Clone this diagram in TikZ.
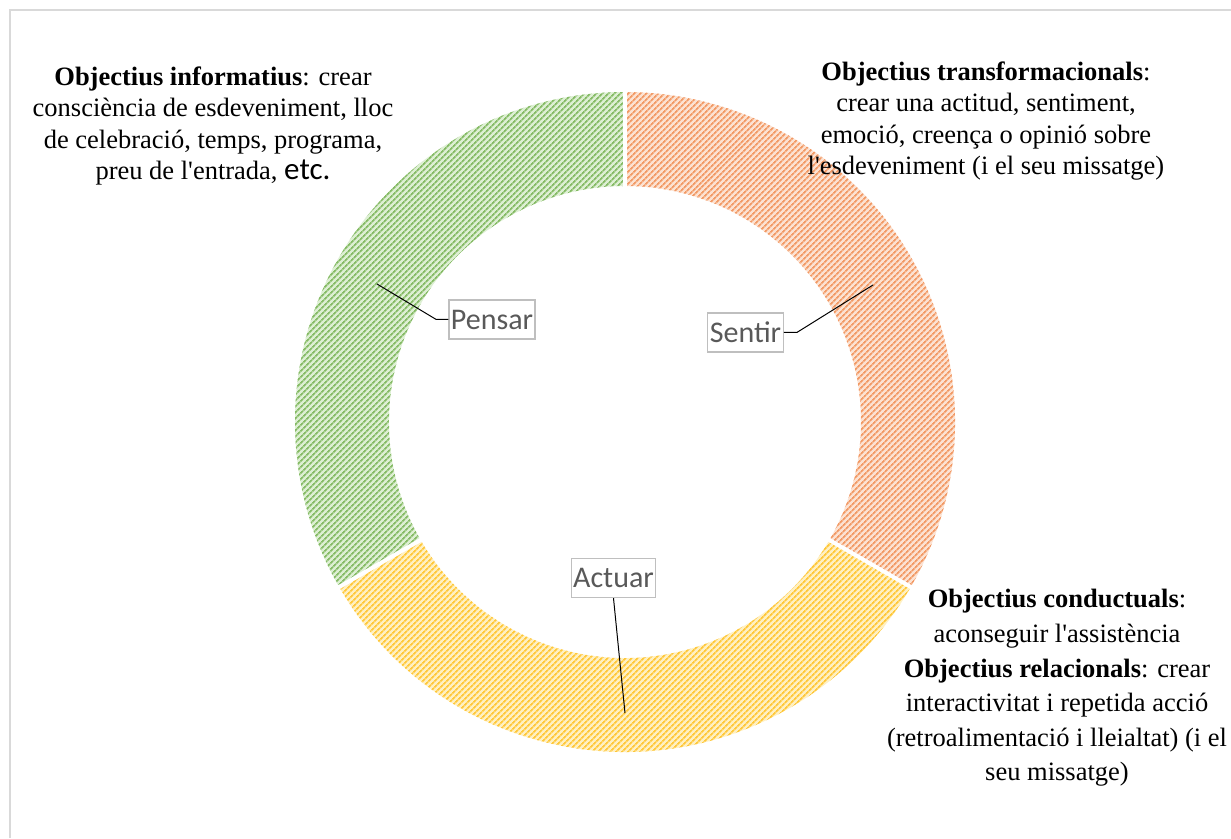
\documentclass[tikz,border=0pt]{standalone}
\usepackage{fontspec}
\setmainfont[Ligatures=NoCommon]{Liberation Serif}
\newfontfamily\labelfont{Carlito}
\usetikzlibrary{patterns.meta,positioning}
\definecolor{frameline}{HTML}{D9D9D9}
\definecolor{boxgray}{HTML}{BFBFBF}
\definecolor{labelgray}{HTML}{595959}
\definecolor{greenbg}{HTML}{DDEFD3}
\definecolor{greenfg}{HTML}{86BB66}
\definecolor{orangebg}{HTML}{FCE2D2}
\definecolor{orangefg}{HTML}{F29A66}
\definecolor{yellowbg}{HTML}{FFF0C2}
\definecolor{yellowfg}{HTML}{FFC83A}
\newcommand{\apos}{\textquotesingle}
\tikzset{>=latex,
  hatch/.style 2 args={fill=#1, postaction={pattern={Lines[angle=45,distance=4pt,line width=1.8pt]}, pattern color=#2}},
  catlabel/.style={draw=boxgray, line width=1.3pt, text=labelgray, inner sep=2pt,
    minimum height=39pt, font=\labelfont\fontsize{30}{31}\selectfont},
  goaltext/.style={align=center, font=\fontsize{26.5}{31.5}\selectfont},
  leader/.style={line width=1pt}
}
\begin{document}
\begin{tikzpicture}[x=1pt,y=1pt]
    \useasboundingbox (-625,-416) rectangle (606,422);
    \draw [frameline,line width=1.5pt] (-615,-416) -- (-615,412) -- (606,412);
    % ring
    \path [hatch={greenbg}{greenfg}] (90:236) -- (90:330) arc [start angle=90,end angle=210,radius=330]
      -- (210:236) arc [start angle=210,end angle=90,radius=236] -- cycle;
    \path [hatch={yellowbg}{yellowfg}] (210:236) -- (210:330) arc [start angle=210,end angle=330,radius=330]
      -- (330:236) arc [start angle=330,end angle=210,radius=236] -- cycle;
    \path [hatch={orangebg}{orangefg}] (-30:236) -- (-30:330) arc [start angle=-30,end angle=90,radius=330]
      -- (90:236) arc [start angle=90,end angle=-30,radius=236] -- cycle;
    \foreach \a in {90,210,330}
      \draw [white,line width=4pt] (\a:230) -- (\a:336);
    % labels
    \node [catlabel] (pensar) at (-133,102.5) {Pensar};
    \node [catlabel] (sentir) at (120.5,89.5) {Sentir};
    \node [catlabel] (actuar) at (-11.5,-156) {Actuar};
    \coordinate (pensarpt) at (-248,138);
    \coordinate (sentirpt) at (248,137);
    \coordinate (actuarpt) at (0,-291);
    \draw [leader] (pensar.west) -- ++(-12,0) -- (pensarpt);
    \draw [leader] (sentir.east) -- ++(13,0) -- (sentirpt);
    \draw [leader] (actuar.south) -- (actuarpt);
    % goals
    \node [goaltext] (informatius) at (-412,296) {\textbf{Objectius informatius}: crear\\
      consciència de esdeveniment, lloc\\ de celebració, temps, programa,\\
      preu de l\apos entrada, {\labelfont\fontsize{31}{31.5}\selectfont etc.}};
    \node [goaltext] (transform) at (361,301) {\textbf{Objectius transformacionals}:\\
      crear una actitud, sentiment,\\ emoció, creença o opinió sobre\\
      l\apos esdeveniment (i el seu missatge)};
    \node [goaltext,font=\fontsize{26.5}{34.6}\selectfont] (conductuals) at (432,-266) {\textbf{Objectius conductuals}:\\
      aconseguir l\apos assistència\\ \textbf{Objectius relacionals}: crear\\
      interactivitat i repetida acció\\ (retroalimentació i lleialtat) (i el\\ seu missatge)};
\end{tikzpicture}
\end{document}
